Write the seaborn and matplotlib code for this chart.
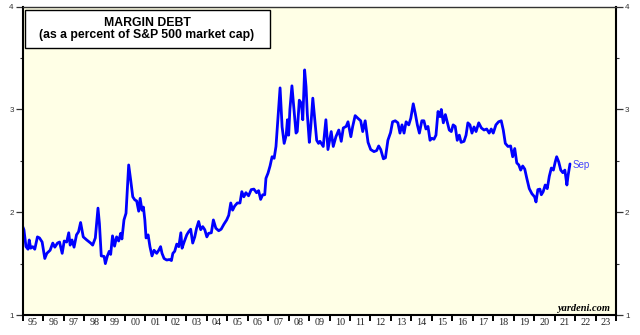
import matplotlib
matplotlib.use("Agg")
import matplotlib.pyplot as plt
from matplotlib.patches import Rectangle
import seaborn as sns
import pandas as pd

# Margin debt as % of S&P 500 market cap (monthly)
dates = [
    1995.00, 1995.06, 1995.16, 1995.26, 1995.32, 1995.39, 1995.49, 1995.59, 1995.72, 1995.82,
    1995.95, 1996.08, 1996.18, 1996.34, 1996.47, 1996.57, 1996.70, 1996.80, 1996.93, 1997.03,
    1997.15, 1997.25, 1997.32, 1997.41, 1997.51, 1997.63, 1997.73, 1997.83, 1997.96, 1998.13,
    1998.32, 1998.42, 1998.55, 1998.68, 1998.75, 1998.84, 1998.98, 1999.04, 1999.14, 1999.23,
    1999.30, 1999.39, 1999.49, 1999.59, 1999.69, 1999.79, 1999.85, 1999.95, 2000.05, 2000.18,
    2000.28, 2000.38, 2000.48, 2000.57, 2000.67, 2000.74, 2000.83, 2000.90, 2000.97, 2001.03,
    2001.13, 2001.22, 2001.32, 2001.42, 2001.55, 2001.65, 2001.74, 2001.81, 2001.91, 2002.04,
    2002.17, 2002.27, 2002.34, 2002.43, 2002.53, 2002.63, 2002.73, 2002.79, 2002.89, 2003.02,
    2003.11, 2003.21, 2003.31, 2003.41, 2003.50, 2003.60, 2003.70, 2003.80, 2003.90, 2004.00,
    2004.09, 2004.22, 2004.32, 2004.44, 2004.58, 2004.70, 2004.84, 2004.97, 2005.07, 2005.17,
    2005.26, 2005.36, 2005.49, 2005.62, 2005.71, 2005.81, 2005.91, 2006.04, 2006.17, 2006.30,
    2006.43, 2006.53, 2006.63, 2006.73, 2006.83, 2006.89, 2006.99, 2007.09, 2007.19, 2007.29,
    2007.38, 2007.48, 2007.58, 2007.68, 2007.78, 2007.88, 2007.94, 2008.00, 2008.06, 2008.16,
    2008.26, 2008.36, 2008.42, 2008.52, 2008.62, 2008.69, 2008.78, 2008.85, 2008.91, 2009.01,
    2009.08, 2009.18, 2009.28, 2009.37, 2009.46, 2009.53, 2009.69, 2009.82, 2009.92, 2010.08,
    2010.18, 2010.31, 2010.45, 2010.57, 2010.67, 2010.81, 2010.90, 2011.04, 2011.13, 2011.25,
    2011.38, 2011.52, 2011.62, 2011.74, 2011.88, 2012.01, 2012.17, 2012.30, 2012.40, 2012.50,
    2012.63, 2012.73, 2012.85, 2012.98, 2013.08, 2013.21, 2013.34, 2013.44, 2013.54, 2013.64,
    2013.74, 2013.87, 2013.97, 2014.09, 2014.19, 2014.29, 2014.39, 2014.51, 2014.61, 2014.71,
    2014.81, 2014.91, 2015.00, 2015.10, 2015.20, 2015.30, 2015.40, 2015.46, 2015.56, 2015.66,
    2015.76, 2015.85, 2015.95, 2016.04, 2016.14, 2016.24, 2016.34, 2016.43, 2016.57, 2016.67,
    2016.76, 2016.86, 2016.96, 2017.06, 2017.16, 2017.29, 2017.42, 2017.55, 2017.68, 2017.80,
    2017.90, 2018.00, 2018.13, 2018.26, 2018.39, 2018.49, 2018.59, 2018.72, 2018.85, 2018.95,
    2019.05, 2019.15, 2019.25, 2019.34, 2019.44, 2019.54, 2019.64, 2019.76, 2019.89, 2020.02,
    2020.09, 2020.18, 2020.28, 2020.35, 2020.44, 2020.54, 2020.64, 2020.74, 2020.84, 2020.94,
    2021.03, 2021.10, 2021.20, 2021.30, 2021.40, 2021.50, 2021.60, 2021.66, 2021.75,
]
margin_pct = [
    1.86, 1.83, 1.665, 1.64, 1.73, 1.65, 1.665, 1.64, 1.76, 1.75,
    1.71, 1.55, 1.60, 1.63, 1.70, 1.66, 1.70, 1.71, 1.60, 1.72,
    1.71, 1.80, 1.68, 1.73, 1.66, 1.78, 1.81, 1.90, 1.76, 1.73,
    1.70, 1.68, 1.75, 2.04, 1.89, 1.575, 1.57, 1.50, 1.575, 1.62,
    1.59, 1.77, 1.67, 1.76, 1.72, 1.795, 1.74, 1.925, 1.99, 2.46,
    2.31, 2.15, 2.12, 2.11, 2.01, 2.135, 2.02, 2.05, 1.925, 1.75,
    1.78, 1.665, 1.575, 1.63, 1.60, 1.63, 1.665, 1.60, 1.55, 1.535,
    1.54, 1.53, 1.60, 1.62, 1.69, 1.665, 1.80, 1.65, 1.71, 1.78,
    1.81, 1.835, 1.70, 1.76, 1.845, 1.91, 1.83, 1.86, 1.83, 1.76,
    1.795, 1.80, 1.925, 1.845, 1.82, 1.835, 1.885, 1.925, 1.97, 2.09,
    2.02, 2.06, 2.09, 2.09, 2.20, 2.15, 2.19, 2.16, 2.22, 2.225,
    2.19, 2.21, 2.125, 2.17, 2.17, 2.33, 2.38, 2.45, 2.54, 2.525,
    2.64, 2.93, 3.21, 2.83, 2.67, 2.75, 2.90, 2.75, 3.00, 3.23,
    3.00, 2.77, 2.785, 3.09, 3.06, 2.90, 3.385, 3.22, 2.96, 2.68,
    2.83, 3.11, 2.90, 2.70, 2.67, 2.69, 2.64, 2.90, 2.61, 2.785,
    2.64, 2.735, 2.80, 2.69, 2.82, 2.835, 2.88, 2.735, 2.835, 2.94,
    2.915, 2.89, 2.785, 2.89, 2.68, 2.61, 2.59, 2.60, 2.645, 2.61,
    2.52, 2.53, 2.70, 2.775, 2.88, 2.89, 2.87, 2.77, 2.85, 2.77,
    2.88, 2.85, 2.915, 3.055, 2.96, 2.85, 2.77, 2.89, 2.89, 2.81,
    2.835, 2.70, 2.72, 2.71, 2.75, 2.98, 2.93, 3.00, 2.87, 2.95,
    2.87, 2.80, 2.785, 2.85, 2.835, 2.70, 2.75, 2.68, 2.69, 2.75,
    2.87, 2.85, 2.77, 2.83, 2.785, 2.87, 2.82, 2.80, 2.81, 2.77,
    2.81, 2.77, 2.85, 2.88, 2.89, 2.80, 2.67, 2.64, 2.645, 2.54,
    2.62, 2.48, 2.46, 2.41, 2.45, 2.42, 2.33, 2.23, 2.18, 2.15,
    2.10, 2.22, 2.225, 2.17, 2.20, 2.265, 2.23, 2.35, 2.43, 2.41,
    2.49, 2.54, 2.49, 2.41, 2.385, 2.41, 2.265, 2.36, 2.47,
]
year_ticks = list(range(1995, 2025))
year_labels = [f"{y % 100:02d}" for y in range(1995, 2024)]
y_ticks = [1, 2, 3, 4]
y_minor = [1.5, 2.5, 3.5]
title_lines = ["MARGIN DEBT", "(as a percent of S&P 500 market cap)"]
last_label = "Sep"

sns.set_style("white")
plt.rcParams["font.family"] = ["Liberation Sans", "DejaVu Sans"]

df = pd.DataFrame({"date": dates, "pct": margin_pct})

fig = plt.figure(figsize=(6.4, 3.35), dpi=100)
fig.patch.set_facecolor("white")
ax = fig.add_axes([22.7 / 640, 20 / 335, (616 - 22.7) / 640, (315 - 6.7) / 335])
ax.set_facecolor("#FFFFE6")

sns.lineplot(data=df, x="date", y="pct", ax=ax, color="#0000FF", linewidth=2.0,
             sort=False, estimator=None, zorder=2)

ax.set_xlim(1995, 2024)
ax.set_ylim(1, 4)
ax.set_xlabel("")
ax.set_ylabel("")

# x axis: year boundary ticks, labels centered in each year
ax.set_xticks(year_ticks)
ax.set_xticklabels([""] * len(year_ticks))
ax.set_xticks([y + 0.5 for y in range(1995, 2024)], minor=True)
ax.set_xticklabels(year_labels, minor=True, fontfamily="Liberation Serif", fontsize=7.3, color="#222222")
ax.tick_params(axis="x", which="major", direction="out", length=4.3, width=1.4, color="black", bottom=True)
ax.tick_params(axis="x", which="minor", length=0, pad=2)

# y axis, both sides
ax.set_yticks(y_ticks)
ax.set_yticklabels([str(v) for v in y_ticks])
ax.set_yticks(y_minor, minor=True)
ax.tick_params(axis="y", which="major", direction="out", length=5, width=0.9, color="#333333",
               left=True, right=True, labelleft=True, labelright=True, labelsize=5.8,
               labelcolor="#333333", pad=1.5)
ax.tick_params(axis="y", which="minor", direction="out", length=2, width=0.8, color="#333333",
               left=True, right=True)

for side in ["left", "bottom", "right"]:
    ax.spines[side].set_visible(True)
    ax.spines[side].set_color("black")
    ax.spines[side].set_linewidth(1.5)
ax.spines["top"].set_visible(True)
ax.spines["top"].set_color("#333333")
ax.spines["top"].set_linewidth(1.0)

# title box
ax.add_patch(Rectangle((0.004, 0.866), 0.413, 0.123, transform=ax.transAxes,
                       facecolor="white", edgecolor="black", linewidth=1.0, zorder=3))
ax.text(0.2095, 0.947, title_lines[0], transform=ax.transAxes, ha="center", va="center",
        fontsize=8.8, fontweight="bold", color="black", zorder=4)
ax.text(0.2095, 0.907, title_lines[1], transform=ax.transAxes, ha="center", va="center",
        fontsize=8.8, fontweight="bold", color="black", zorder=4)

# end label
ax.text(dates[-1] + 0.15, 2.46, last_label, ha="left", va="center", fontsize=7,
        color="#4444FF", zorder=4)

# source
ax.text(0.99, 0.013, "yardeni.com", transform=ax.transAxes, ha="right", va="baseline",
        fontfamily="Liberation Serif", fontstyle="italic", fontweight="bold", fontsize=7.5,
        color="black", zorder=4)

fig.savefig("out.png", dpi=100, facecolor="white")
